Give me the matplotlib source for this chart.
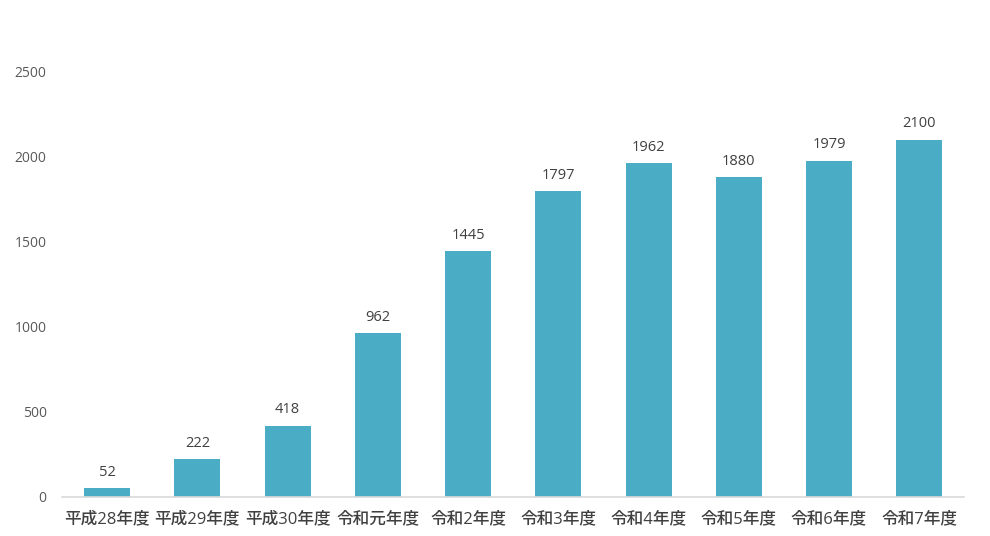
import matplotlib
matplotlib.use("Agg")
import matplotlib.pyplot as plt

plt.rcParams['font.family'] = ['Open Sans', 'Noto Sans CJK JP', 'DejaVu Sans']

# data
years = ['平成28年度', '平成29年度', '平成30年度', '令和元年度', '令和2年度',
         '令和3年度', '令和4年度', '令和5年度', '令和6年度', '令和7年度']
counts = [52, 222, 418, 962, 1445, 1797, 1962, 1880, 1979, 2100]
yticks = [0, 500, 1000, 1500, 2000, 2500]

fig = plt.figure(figsize=(9.9, 5.36), dpi=100)
ax = fig.add_axes([0.0626, 0.0728, 0.9115, 0.793])

x = range(len(years))
bars = ax.bar(x, counts, width=0.51, color='#4BACC6')

# value labels above the bars
for xi, v in zip(x, counts):
    ax.text(xi, v + 50, str(v), ha='center', va='bottom',
            fontsize=10.5, color='#404040')

ax.set_xlim(-0.5, len(years) - 0.5)
ax.set_ylim(0, 2500)
ax.set_yticks(yticks)
ax.set_yticklabels([str(t) for t in yticks], fontsize=10, color='#595959')
ax.set_xticks(list(x))
ax.set_xticklabels(years, fontsize=12, color='#404040', fontweight='medium')

for s in ['top', 'right', 'left']:
    ax.spines[s].set_visible(False)
ax.spines['bottom'].set_color('#D9D9D9')
ax.spines['bottom'].set_linewidth(1.2)
ax.tick_params(axis='both', length=0)
ax.tick_params(axis='y', pad=11)
ax.tick_params(axis='x', pad=10)

fig.savefig('out.png', dpi=100)
